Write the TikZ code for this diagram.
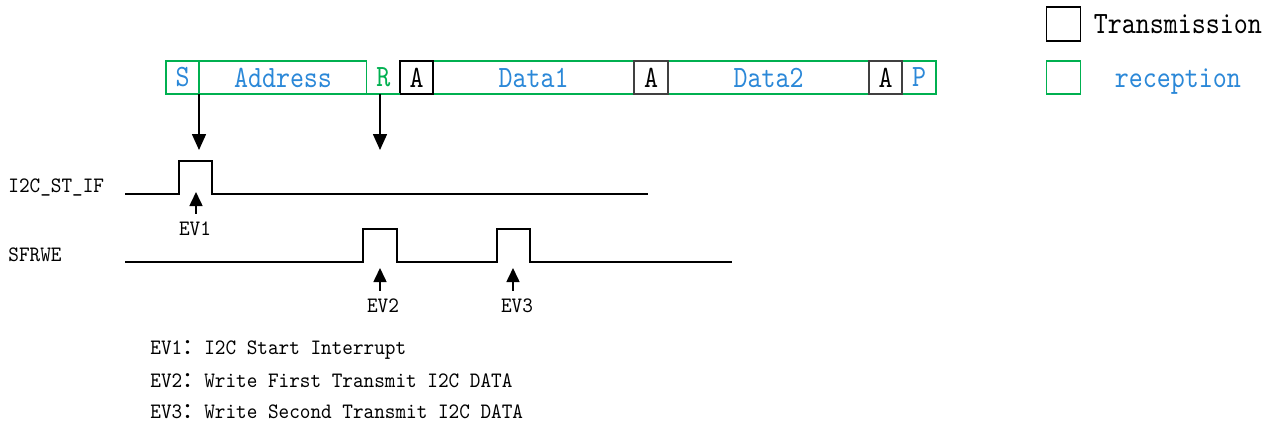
\documentclass[tikz,border=0pt]{standalone}
\usepackage{fontspec}
\usepackage{tikz}
\usetikzlibrary{positioning,arrows.meta}
\newfontfamily\monofield[FakeStretch=0.86]{lmmono10-regular.otf}
\newfontfamily\mononote[FakeStretch=0.92]{lmmono10-regular.otf}
\newfontfamily\cjk{Noto Sans CJK SC}
\newcommand{\fieldfont}{\monofield\fontsize{15.5pt}{18pt}\selectfont}
\newcommand{\notefont}{\mononote\fontsize{11pt}{13pt}\selectfont}
\definecolor{rxgreen}{HTML}{00B050}
\definecolor{rxblue}{HTML}{2B88D8}
\definecolor{ackgray}{HTML}{404040}
\tikzset{
    fieldbox/.style={draw=rxgreen,line width=0.75pt,minimum height=16.5pt,inner sep=0pt,outer sep=0pt,font=\fieldfont,text=rxblue},
    ackbox/.style={fieldbox,draw=ackgray,text=black},
    ackblack/.style={fieldbox,draw=black,text=black},
    sigline/.style={line width=1pt,line join=miter},
    downarrow/.style={-{Triangle[length=8pt,width=7pt]},line width=0.8pt},
    uparrow/.style={-{Triangle[length=7pt,width=6.5pt]},line width=0.8pt},
    evlabel/.style={font=\notefont,inner sep=0pt},
    siglabel/.style={font=\notefont,inner sep=0pt,anchor=west},
    note/.style={font=\notefont,inner sep=0pt,anchor=west}
}
\begin{document}
\begin{tikzpicture}[x=0.5pt,y=-0.5pt]
\useasboundingbox (0,0) rectangle (1274,425);
% frame fields
\foreach \nm/\cx/\w/\txt/\sty in {S/182.5/33/S/fieldbox,Addr/283/167/Address/fieldbox,
    Done/533.5/201/Data1/fieldbox,Dtwo/768.5/201/Data2/fieldbox,P/919/34/P/fieldbox,
    Aone/416.5/33/A/ackblack,Atwo/651/34/A/ackbox,Athree/885.5/33/A/ackbox}{
    \node[\sty,minimum width=\w*0.5pt] (\nm) at (\cx,77.5) {\txt};
}
\node[fieldbox,draw=none,text=rxgreen,minimum width=16.75pt] (R) at (383.25,77.5) {R};
\draw[rxgreen,line width=0.75pt] (R.south west) -- (R.south east);
% interrupt points
\coordinate (stip) at (199,150);
\coordinate (rtip) at (380,150);
\draw[downarrow] (S.south east) -- (stip);
\draw[downarrow] (R.south -| rtip) -- (rtip);
% signals
\node[siglabel] (stif) at (8,187) {I2C\_ST\_IF};
\node[siglabel] (sfrwe) at (8,255) {SFRWE};
\draw[sigline] (125,194) -- (179,194) -- (179,161) -- (212,161) -- (212,194) -- (648,194);
\draw[sigline] (125,262) -- (363,262) -- (363,229) -- (397,229) -- (397,262) -- (497,262)
    -- (497,229) -- (530,229) -- (530,262) -- (732,262);
% events
\node[evlabel] (ev1) at (195,229) {EV1};
\node[evlabel] (ev2) at (383,306) {EV2};
\node[evlabel] (ev3) at (517,306) {EV3};
\coordinate (ev1tip) at (196,192);
\coordinate (ev2tip) at (380,268);
\coordinate (ev3tip) at (513,268);
\draw[uparrow] ([yshift=4pt]ev1.north -| ev1tip) -- (ev1tip);
\draw[uparrow] ([yshift=4pt]ev2.north -| ev2tip) -- (ev2tip);
\draw[uparrow] ([yshift=4pt]ev3.north -| ev3tip) -- (ev3tip);
% legend
\node[ackblack,minimum width=17pt,minimum height=17pt] (txkey) at (1063.5,24) {};
\node[right=6.5pt of txkey,font=\fieldfont,inner sep=0pt] (txtext) {Transmission};
\node[fieldbox,minimum width=17pt,minimum height=16.5pt] (rxkey) at (1063.5,77.5) {};
\node[right=17pt of rxkey,yshift=-2pt,font=\fieldfont,text=rxblue,inner sep=0pt] (rxtext) {reception};
% notes
\node[note] (note1) at (150,350) {EV1{\cjk ：}I2C Start Interrupt};
\node[note] (note2) at (150,381) {EV2{\cjk ：}Write First Transmit I2C DATA};
\node[note] (note3) at (150,412) {EV3{\cjk ：}Write Second Transmit I2C DATA};
\end{tikzpicture}
\end{document}
